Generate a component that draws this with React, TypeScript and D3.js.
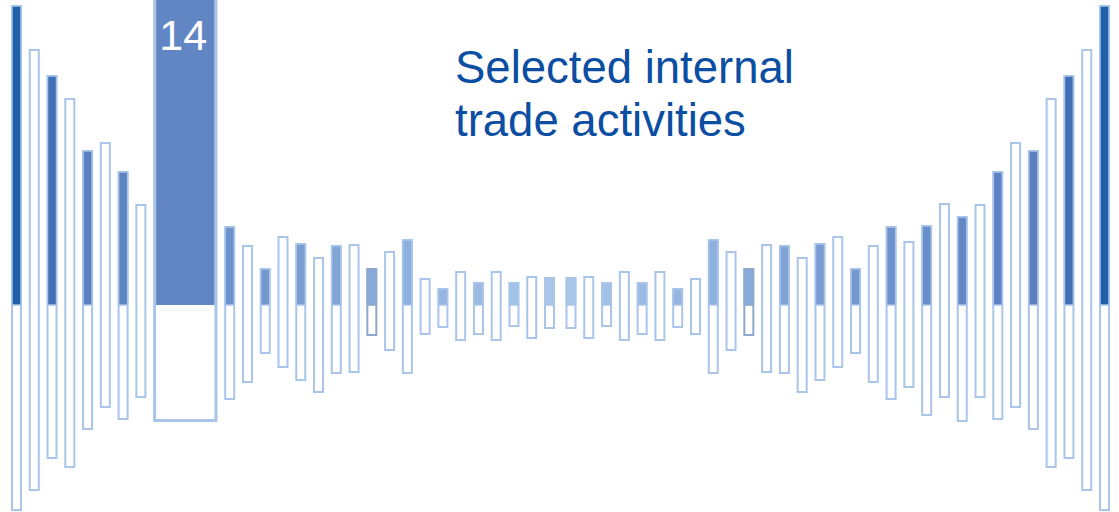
import * as d3 from "d3";

// Slots counted outward from the centre; the left half mirrors the right half.
const SLOTS = d3.range(31);
const UPPER = [28, 29, 23, 34, 23, 34, 17, 27, 66, 54, 37, 61, 60, 48, 62, 69, 37, 60, 79, 64, 80, 102, 89, 101, 134, 163, 155, 207, 230, 256, 300];
const LOWER = [24, 34, 22, 36, 30, 36, 23, 30, 69, 46, 31, 68, 69, 88, 76, 63, 49, 78, 95, 83, 111, 93, 117, 93, 115, 103, 125, 163, 154, 186, 206];
const MUTED_SLOTS = [10];

// Highlighted block on the left side, replacing slots 19..22
const HIGHLIGHT_LABEL = "14";
const HIGHLIGHT_SLOTS = [19, 22];
const HIGHLIGHT_UPPER = 320;
const HIGHLIGHT_LOWER = 117;

const TITLE_LINES = ["Selected internal", "trade activities"];

const WIDTH = 1119;
const HEIGHT = 512;
const BAR_W = 11;
const STROKE = "#a9c5ea";
const MUTED_STROKE = "#8fa7ca";
const HIGHLIGHT_FILL = "#6286c4";
const TITLE_COLOR = "#0b4ea2";
const FONT = "'Liberation Sans', Arial, sans-serif";

const y = d3.scaleLinear().domain([-207, 305]).range([HEIGHT, 0]);
const xLeft = d3.scaleLinear().domain([0, 30]).range([549.5, 16.5]);
const xRight = d3.scaleLinear().domain([0, 30]).range([571, 1104.5]);
const fillColor = d3
  .scaleLinear<string>()
  .domain([0, 8, 18, 26, 28, 30])
  .range(["#a9c6ea", "#8eb0de", "#6d91cb", "#5a80c0", "#4270b6", "#1f5fa8"]);

function Bar({ cx, slot }: { cx: number; slot: number }) {
  const top = y(UPPER[slot]);
  const bottom = y(-LOWER[slot]);
  const base = y(0);
  const filled = slot % 2 === 0;
  const stroke = MUTED_SLOTS.includes(slot) ? MUTED_STROKE : STROKE;
  const x = cx - BAR_W / 2 + 1;
  const w = BAR_W - 2;
  return (
    <g>
      <rect x={x} y={top + 1} width={w} height={bottom - top - 2} fill="#fff" stroke={stroke} strokeWidth={2} />
      {filled && (
        <rect x={x} y={top + 1} width={w} height={base - top - 1} fill={fillColor(slot)} stroke={stroke} strokeWidth={1.5} />
      )}
    </g>
  );
}

export default function App() {
  const [s0, s1] = HIGHLIGHT_SLOTS;
  const hx0 = xLeft(s1) - BAR_W / 2;
  const hx1 = xLeft(s0) + BAR_W / 2;
  const hTop = y(HIGHLIGHT_UPPER);
  const hBottom = y(-HIGHLIGHT_LOWER);
  const base = y(0);

  return (
    <svg
      width={WIDTH}
      height={HEIGHT}
      viewBox={`0 0 ${WIDTH} ${HEIGHT}`}
      style={{ position: "absolute", left: 0, top: 0, background: "#fff" }}
    >
      {SLOTS.filter((s) => s < s0 || s > s1).map((s) => (
        <Bar key={`l${s}`} cx={xLeft(s)} slot={s} />
      ))}
      {SLOTS.map((s) => (
        <Bar key={`r${s}`} cx={xRight(s)} slot={s} />
      ))}

      <rect
        x={hx0 + 1.5}
        y={hTop}
        width={hx1 - hx0 - 3}
        height={hBottom - hTop - 1.5}
        fill="#fff"
        stroke={STROKE}
        strokeWidth={3}
      />
      <rect x={hx0 + 3} y={hTop} width={hx1 - hx0 - 6} height={base - hTop} fill={HIGHLIGHT_FILL} />
      <text
        x={(hx0 + hx1) / 2 - 2}
        y={50}
        textAnchor="middle"
        fill="#fff"
        fontSize={43}
        fontFamily={FONT}
      >
        {HIGHLIGHT_LABEL}
      </text>

      {TITLE_LINES.map((line, i) => (
        <text key={line} x={455} y={83 + i * 53} fill={TITLE_COLOR} fontSize={45.5} fontFamily={FONT}>
          {line}
        </text>
      ))}
    </svg>
  );
}
